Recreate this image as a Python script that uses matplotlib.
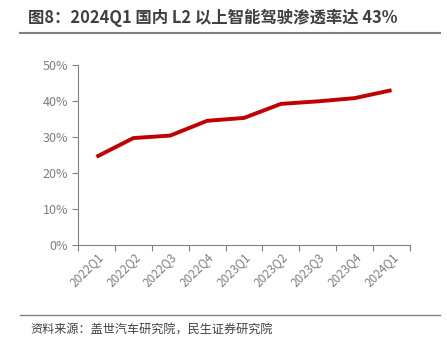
import matplotlib.pyplot as plt
import numpy as np

plt.rcParams['font.family'] = ['Noto Sans CJK SC', 'DejaVu Sans']

quarters = ['2022Q1', '2022Q2', '2022Q3', '2022Q4', '2023Q1',
            '2023Q2', '2023Q3', '2023Q4', '2024Q1']
penetration = [24.5, 29.7, 30.4, 34.5, 35.3, 39.2, 39.9, 40.8, 43.0]

fig = plt.figure(figsize=(4.47, 3.52), dpi=100)
ax = fig.add_axes([78 / 447, 1 - 245 / 352, (410 - 78) / 447, (245 - 65) / 352])

x = np.arange(len(quarters))
ax.plot(x, penetration, color='#C00000', linewidth=2.8, solid_capstyle='butt')

ax.set_xlim(-0.5, len(quarters) - 0.5)
ax.set_ylim(0, 50)
ax.set_yticks(range(0, 51, 10))
ax.set_yticklabels(['%d%%' % v for v in range(0, 51, 10)])
ax.set_xticks(np.arange(-0.5, len(quarters), 1.0))
ax.set_xticklabels([])
ax.set_xticks(x, minor=True)
ax.set_xticklabels(quarters, minor=True, rotation=45, ha='right', va='top',
                   rotation_mode='anchor')
ax.tick_params(axis='x', which='minor', length=0, labelsize=8.5, colors='#7f7f7f', pad=4)
ax.tick_params(axis='x', which='major', length=4, color='#808080', direction='out')
ax.tick_params(axis='y', length=4, color='#808080', labelsize=9, labelcolor='#7f7f7f', pad=3)

for s in ['top', 'right']:
    ax.spines[s].set_visible(False)
for s in ['left', 'bottom']:
    ax.spines[s].set_color('#808080')
    ax.spines[s].set_linewidth(0.8)

fig.text(28 / 447, 1 - 18 / 352, '图8：2024Q1 国内 L2 以上智能驾驶渗透率达 43%',
         fontsize=11.8, fontweight='bold', color='#404040', va='center')
fig.add_artist(plt.Line2D([20 / 447, 440 / 447], [1 - 33 / 352, 1 - 33 / 352],
                          color='#808080', linewidth=1.5))
fig.add_artist(plt.Line2D([20 / 447, 440 / 447], [1 - 315 / 352, 1 - 315 / 352],
                          color='#808080', linewidth=1.0))
fig.text(30 / 447, 1 - 330 / 352, '资料来源：盖世汽车研究院，民生证券研究院',
         fontsize=8.7, color='#404040', va='center')

fig.savefig('out.png', dpi=100)
